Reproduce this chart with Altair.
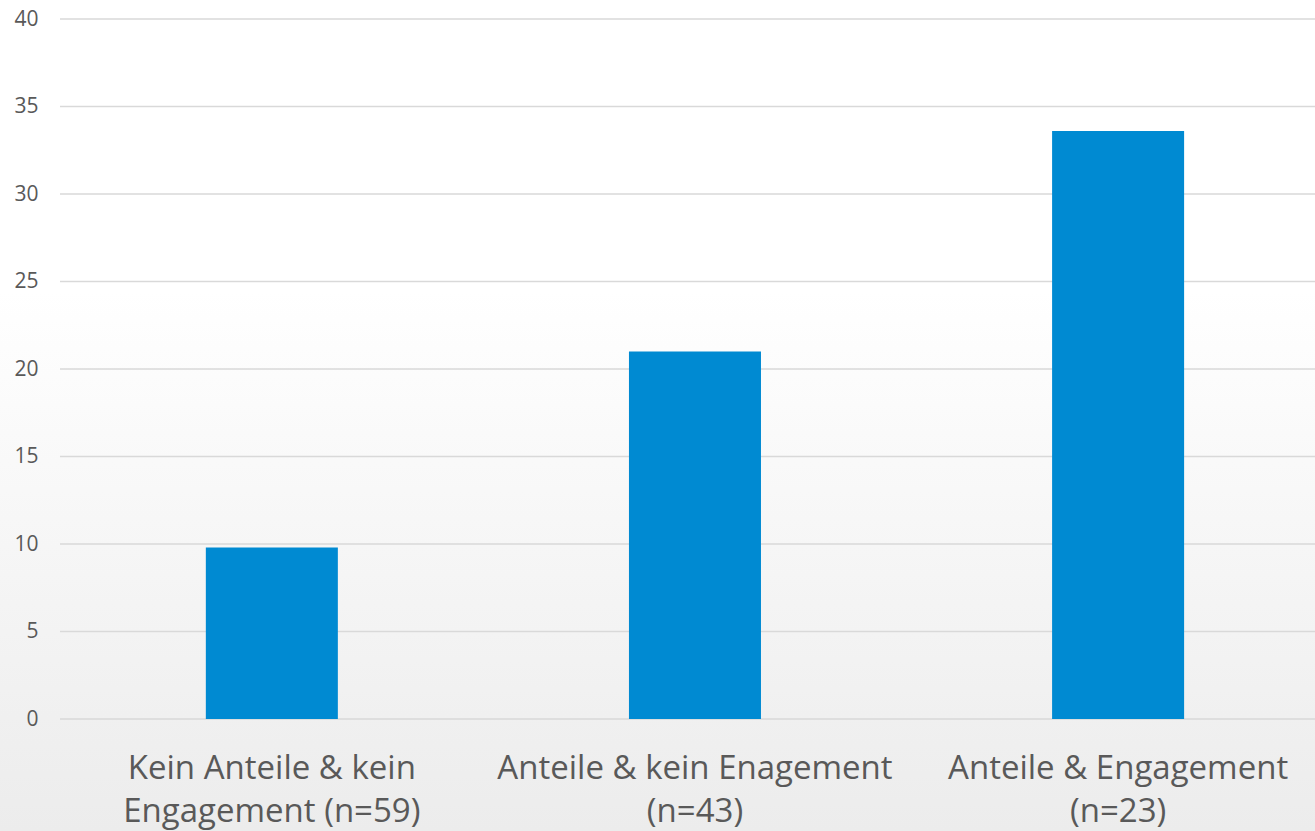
import altair as alt
import pandas as pd

categories = [
    "Kein Anteile & kein\nEngagement (n=59)",
    "Anteile & kein Enagement\n(n=43)",
    "Anteile & Engagement\n(n=23)",
]
values = [9.8, 21.0, 33.6]
y_ticks = [0, 5, 10, 15, 20, 25, 30, 35, 40]

df = pd.DataFrame({"cat": categories, "val": values})
ticks_df = pd.DataFrame({"tick": y_ticks})

W, H = 1255, 700
FONT = "Open Sans"

yscale = alt.Scale(domain=[0, 40], nice=False)
yaxis = alt.Axis(values=y_ticks, grid=False, domain=False, ticks=False,
                 labelFontSize=21, labelColor="#595959", labelFont=FONT,
                 labelPadding=22, title=None, zindex=1)

bg = alt.Chart(pd.DataFrame({"d": [0]})).mark_rect(
    fill=alt.LinearGradient(
        gradient="linear", x1=0, x2=0, y1=0, y2=1,
        stops=[alt.GradientStop(color="#ffffff", offset=0),
               alt.GradientStop(color="#ffffff", offset=0.35),
               alt.GradientStop(color="#ececec", offset=1)],
    )
).encode(x=alt.value(-60), x2=alt.value(W), y=alt.value(-19), y2=alt.value(H + 112))

rules = alt.Chart(ticks_df).mark_rule(color="#d9d9d9", strokeWidth=1.5).encode(
    y=alt.Y("tick:Q", scale=yscale, axis=yaxis)
)

bars = alt.Chart(df).mark_bar(color="#008AD2").encode(
    x=alt.X("cat:N", sort=None,
            scale=alt.Scale(paddingInner=0.688, paddingOuter=0.327, align=0.527),
            axis=alt.Axis(labelAngle=0, domain=False, ticks=False, title=None,
                          labelFontSize=33, labelColor="#595959", labelFont=FONT,
                          labelPadding=33, labelLineHeight=43, labelLimit=0,
                          labelExpr="split(datum.label, '\\n')", zindex=1)),
    y=alt.Y("val:Q", scale=yscale, axis=yaxis),
)

chart = alt.layer(bg, rules, bars).properties(
    width=W, height=H,
    autosize=alt.AutoSizeParams(type="none"),
    padding={"left": 60, "top": 19, "right": 0, "bottom": 112},
).configure_view(stroke=None).configure(background="#ffffff")

chart.save("out.html", embed_options={"renderer": "svg", "actions": False})
